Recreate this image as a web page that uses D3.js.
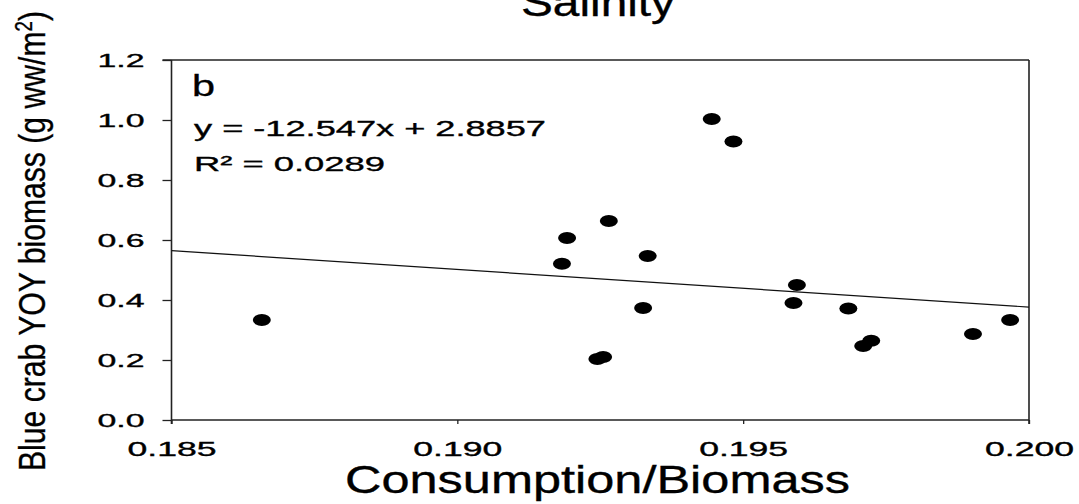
<!DOCTYPE html>
<html>
<head>
<meta charset="utf-8">
<script src="https://cdn.jsdelivr.net/npm/d3@7/dist/d3.min.js"></script>
<style>
  html, body { margin: 0; padding: 0; background: #fff; }
  svg { display: block; }
  text { font-family: "Liberation Sans", Arial, Helvetica, sans-serif; fill: #000; stroke: #000; stroke-width: 0.35px; }
</style>
</head>
<body>
<svg id="chart" width="1079" height="504"></svg>
<script>
// Consumption/Biomass ratio per observation
const consumptionRatio = [0.18658, 0.19183, 0.19192, 0.19265, 0.19245, 0.19255, 0.19325, 0.19333,
  0.19445, 0.19483, 0.19594, 0.19588, 0.19684, 0.19710, 0.19724, 0.19902, 0.19967];
// Blue crab YOY biomass (g ww/m2)
const yoyBiomass = [0.333, 0.521, 0.607, 0.663, 0.203, 0.210, 0.373, 0.547,
  1.003, 0.928, 0.450, 0.390, 0.372, 0.247, 0.264, 0.287, 0.333];
// Linear fit y = slope * x + intercept
const fitSlope = -12.547;
const fitIntercept = 2.8857;
const fitR2 = 0.0289;
const xTicks = [0.185, 0.190, 0.195, 0.200];
const yTicks = [0.0, 0.2, 0.4, 0.6, 0.8, 1.0, 1.2];

const svg = d3.select("#chart");
const plotL = 171.5, plotR = 1029, plotT = 60, plotB = 420;

const x = d3.scaleLinear().domain([0.185, 0.200]).range([plotL, plotR]);
const y = d3.scaleLinear().domain([0, 1.2]).range([plotB, plotT]);

// Plot frame (top and right edges)
svg.append("line").attr("x1", plotL - 9).attr("x2", plotR).attr("y1", plotT).attr("y2", plotT)
  .attr("stroke", "#222").attr("stroke-width", 1.6);
svg.append("line").attr("x1", plotR).attr("x2", plotR).attr("y1", plotT).attr("y2", plotB + 4)
  .attr("stroke", "#222").attr("stroke-width", 1.6);

// Y axis
const yAxis = svg.append("g").attr("transform", `translate(${plotL},0)`)
  .call(d3.axisLeft(y).tickValues(yTicks).tickFormat(d3.format(".1f"))
    .tickSize(9).tickSizeOuter(0).tickPadding(18));
yAxis.select(".domain").attr("stroke", "#222").attr("stroke-width", 1.6)
  .attr("d", `M0,${plotT}V${plotB + 4}`);
yAxis.selectAll(".tick line").attr("stroke", "#222").attr("stroke-width", 1.3);
yAxis.selectAll(".tick text").attr("font-size", 19).attr("font-family", null)
  .attr("textLength", 47).attr("lengthAdjust", "spacingAndGlyphs").attr("dy", "0.36em");

// X axis
const xAxis = svg.append("g").attr("transform", `translate(0,${plotB})`)
  .call(d3.axisBottom(x).tickValues(xTicks).tickFormat(d3.format(".3f"))
    .tickSize(4).tickSizeOuter(0).tickPadding(18));
xAxis.select(".domain").attr("stroke", "#222").attr("stroke-width", 1.6)
  .attr("d", `M${plotL},0H${plotR}`);
xAxis.selectAll(".tick line").attr("stroke", "#222").attr("stroke-width", 1.3);
xAxis.selectAll(".tick text").attr("font-size", 20).attr("font-family", null)
  .attr("textLength", 89).attr("lengthAdjust", "spacingAndGlyphs");

// Regression line across the full x range
const [x0, x1] = x.domain();
svg.append("line")
  .attr("x1", x(x0)).attr("y1", y(fitSlope * x0 + fitIntercept))
  .attr("x2", x(x1)).attr("y2", y(fitSlope * x1 + fitIntercept))
  .attr("stroke", "#111").attr("stroke-width", 1.2);

// Scatter points
svg.append("g").selectAll("ellipse")
  .data(consumptionRatio.map((c, i) => [c, yoyBiomass[i]]))
  .join("ellipse")
  .attr("cx", d => x(d[0])).attr("cy", d => y(d[1]))
  .attr("rx", 9).attr("ry", 6).attr("fill", "#000");

// Panel letter and fit annotation
svg.append("text").attr("x", 192).attr("y", 96).attr("font-size", 29)
  .attr("textLength", 23).attr("lengthAdjust", "spacingAndGlyphs").text("b");
svg.append("text").attr("x", 194).attr("y", 136).attr("font-size", 22)
  .attr("textLength", 352).attr("lengthAdjust", "spacingAndGlyphs")
  .text(`y = ${fitSlope}x + ${fitIntercept}`);
svg.append("text").attr("x", 194).attr("y", 170.5).attr("font-size", 21)
  .attr("textLength", 191).attr("lengthAdjust", "spacingAndGlyphs")
  .text(`R² = ${fitR2}`);

// Title
svg.append("text").attr("x", 598).attr("y", 16).attr("text-anchor", "middle")
  .attr("font-size", 38).attr("textLength", 154).attr("lengthAdjust", "spacingAndGlyphs")
  .text("Salinity");

// Axis titles
svg.append("text").attr("x", 597.5).attr("y", 493).attr("text-anchor", "middle")
  .attr("font-size", 38).attr("textLength", 505).attr("lengthAdjust", "spacingAndGlyphs")
  .text("Consumption/Biomass");

const yTitle = svg.append("text")
  .attr("transform", "translate(45,241) rotate(-90)")
  .attr("text-anchor", "middle").attr("font-size", 37)
  .attr("textLength", 460).attr("lengthAdjust", "spacingAndGlyphs");
yTitle.append("tspan").text("Blue crab YOY biomass (g ww/m");
yTitle.append("tspan").attr("baseline-shift", "super").attr("font-size", 23).text("2");
yTitle.append("tspan").text(")");
</script>
</body>
</html>
